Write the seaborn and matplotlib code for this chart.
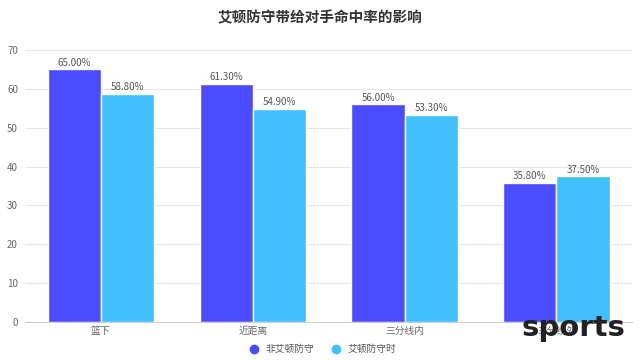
import matplotlib
matplotlib.use("Agg")
import matplotlib.pyplot as plt
import seaborn as sns
import pandas as pd
from matplotlib.lines import Line2D

categories = ["篮下", "近距离", "三分线内", "三分线外"]
series_names = ["非艾顿防守", "艾顿防守时"]
non_ayton = [65.00, 61.30, 56.00, 35.80]
with_ayton = [58.80, 54.90, 53.30, 37.50]
colors = ["#4b4bff", "#40c0ff"]

sns.set_style("white")
plt.rcParams["font.family"] = ["Noto Sans CJK SC", "DejaVu Sans"]

# long format table for seaborn
df = pd.DataFrame({
    "category": categories * 2,
    "series": [series_names[0]] * 4 + [series_names[1]] * 4,
    "value": non_ayton + with_ayton,
})

fig = plt.figure(figsize=(6.4, 3.6), dpi=100)
ax = fig.add_axes([0.039, 0.106, 0.949, 0.755])

sns.barplot(data=df, x="category", y="value", hue="series", order=categories,
            hue_order=series_names, palette=colors, width=0.7, saturation=1,
            edgecolor="white", linewidth=1, ax=ax, legend=False)

for cont in ax.containers:
    ax.bar_label(cont, labels=[f"{v:.2f}%" for v in cont.datavalues],
                 fontsize=7, color="#555555", padding=1)

ax.set_ylim(0, 70)
ax.set_xlim(-0.5, 3.5)
ax.set_yticks(range(0, 71, 10))
ax.yaxis.grid(True, color="#e6e6e6", linewidth=0.8)
ax.set_axisbelow(True)
ax.set_xlabel("")
ax.set_ylabel("")
for s in ["left", "right", "top"]:
    ax.spines[s].set_visible(False)
ax.spines["bottom"].set_color("#cccccc")
ax.tick_params(axis="y", length=0, labelsize=7, labelcolor="#666666", pad=5)
ax.tick_params(axis="x", length=0, labelsize=7, labelcolor="#666666", pad=3)
ax.set_xticks([-0.5, 0.5, 1.5, 2.5, 3.5], minor=True)
ax.tick_params(axis="x", which="minor", length=4, color="#cccccc")

fig.suptitle("艾顿防守带给对手命中率的影响", y=0.975, fontsize=10.5,
             fontweight="bold", color="#333333")

handles = [Line2D([], [], marker="o", linestyle="", markersize=6,
                  markerfacecolor=c, markeredgecolor=c) for c in colors]
fig.legend(handles, series_names, loc="center", bbox_to_anchor=(0.5, 0.03),
           ncol=2, frameon=False, fontsize=7, labelcolor="#555555",
           handletextpad=0.2, columnspacing=1.2)

# watermark in the corner of the reference image
fig.text(0.896, 0.09, "sports", ha="center", va="center", fontsize=21,
         fontweight="bold", color="#222222", family=["DejaVu Sans"])

fig.savefig("out.png", dpi=100)
